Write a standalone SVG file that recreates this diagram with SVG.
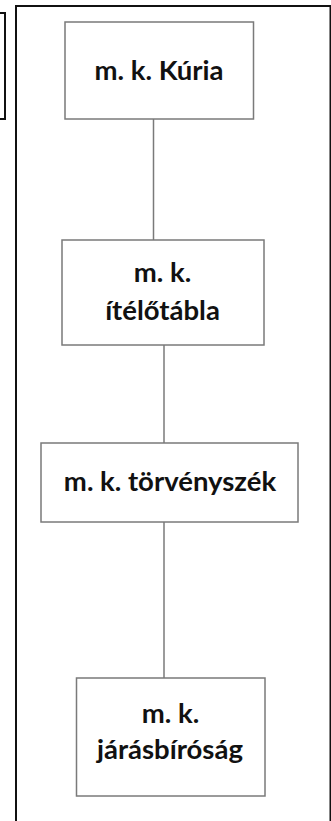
<svg xmlns="http://www.w3.org/2000/svg" width="331" height="821" viewBox="0 0 331 821">
<style>
.frame{fill:none;stroke:#111;stroke-width:2}
.box{fill:#fff;stroke:#7a7a7a;stroke-width:1.5}
.conn{stroke:#7a7a7a;stroke-width:1.5;fill:none}
text{font-family:Lato,"Open Sans",sans-serif;font-weight:bold;font-size:27.5px;fill:#111;text-anchor:middle}
</style>
<rect width="331" height="821" fill="#fff"/>
<rect class="frame" x="-10" y="13" width="15" height="106"/>
<path class="frame" d="M16,830 V6 H330.5 V830"/>
<g id="connectors">
<line class="conn" x1="153.5" y1="119" x2="153.5" y2="240"/>
<line class="conn" x1="164" y1="345" x2="164" y2="443"/>
<line class="conn" x1="164" y1="522" x2="164" y2="678"/>
</g>
<g id="kuria">
<rect class="box" x="65" y="22" width="188.5" height="97"/>
<text x="159" y="80">m. k. Kúria</text>
</g>
<g id="itelotabla">
<rect class="box" x="62" y="240" width="202" height="105"/>
<text x="162.5" y="282">m. k.</text>
<text x="162.5" y="320">ítélőtábla</text>
</g>
<g id="torvenyszek">
<rect class="box" x="41" y="443" width="257" height="79"/>
<text x="170" y="491">m. k. törvényszék</text>
</g>
<g id="jarasbirosag">
<rect class="box" x="76.5" y="678" width="188.5" height="118"/>
<text x="170.5" y="723">m. k.</text>
<text x="170" y="759">járásbíróság</text>
</g>
</svg>
